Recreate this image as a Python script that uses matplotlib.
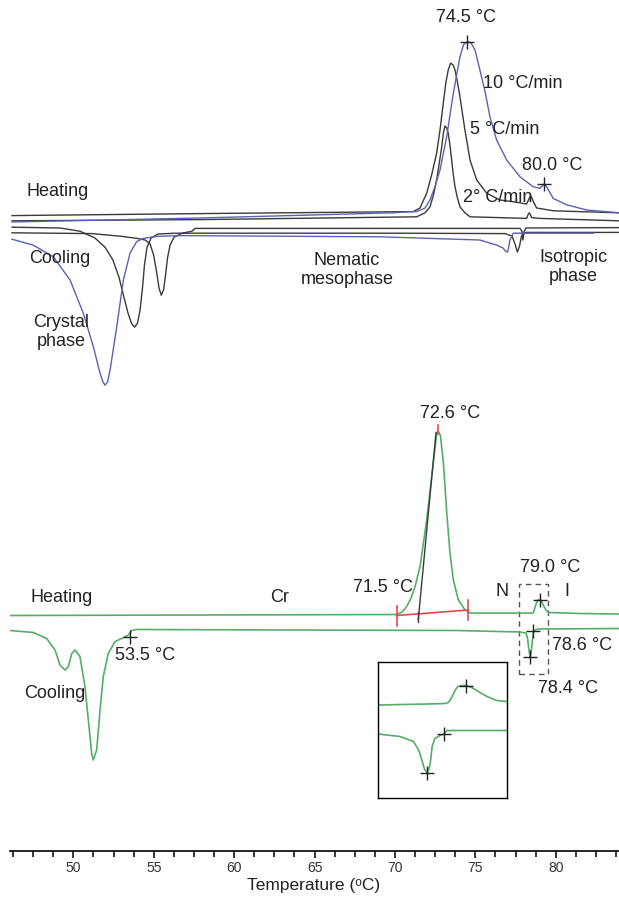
import matplotlib
matplotlib.use("Agg")
import matplotlib.pyplot as plt
from matplotlib import font_manager
from matplotlib.ticker import MultipleLocator, AutoMinorLocator
from matplotlib.patches import Rectangle

# ---- top panel: DSC at 10, 5 and 2 °C/min (temperature, heat flow a.u.) ----
t_h10 = [42.38, 55.67, 69.33, 70.15, 70.98, 71.57, 71.92, 72.27, 72.63, 73.10, 73.57, 74.04,
         74.29, 74.56, 74.82, 75.10, 75.45, 75.81, 76.16, 76.63, 77.34, 78.28, 79.22, 79.69,
         80.00, 80.17, 80.63, 81.58, 82.99, 85.28]
q_h10 = [0.20, 0.30, 0.43, 0.45, 0.46, 0.55, 0.75, 1.08, 1.50, 2.33, 3.42, 4.33,
         4.63, 4.71, 4.68, 4.50, 4.00, 3.46, 2.83, 2.25, 1.75, 1.33, 1.08, 1.04,
         1.15, 1.08, 0.79, 0.63, 0.50, 0.43]

t_h5 = [42.38, 55.67, 70.74, 71.21, 71.69, 72.04, 72.39, 72.63, 72.86, 73.05, 73.21, 73.38,
        73.55, 73.69, 73.86, 74.04, 74.39, 74.75, 75.22, 75.93, 76.87, 77.93, 78.75, 78.95,
        79.06, 79.24, 79.46, 80.63, 85.28]
q_h5 = [0.36, 0.41, 0.46, 0.55, 0.92, 1.38, 1.92, 2.50, 3.17, 3.70, 4.00, 4.17,
        4.13, 4.00, 3.70, 3.33, 2.50, 1.75, 1.25, 0.92, 0.75, 0.70, 0.65, 0.80,
        0.85, 0.70, 0.55, 0.48, 0.43]

t_h2 = [42.38, 55.67, 70.98, 71.57, 71.92, 72.17, 72.39, 72.59, 72.75, 72.87, 72.98, 73.10,
        73.21, 73.33, 73.45, 73.57, 73.69, 73.86, 74.04, 74.39, 74.75, 78.75, 78.85, 78.94,
        79.02, 79.11, 79.69, 85.28]
q_h2 = [0.23, 0.26, 0.33, 0.43, 0.58, 0.88, 1.25, 1.70, 2.08, 2.43, 2.60, 2.55,
        2.42, 2.13, 1.75, 1.38, 1.08, 0.80, 0.58, 0.43, 0.33, 0.29, 0.38, 0.43,
        0.38, 0.31, 0.29, 0.23]

t_c10 = [42.38, 43.89, 45.30, 46.48, 47.42, 48.13, 48.60, 48.81, 48.95, 49.13, 49.31, 49.78,
         50.25, 50.72, 51.19, 51.66, 52.61, 54.26, 68.39, 75.45, 76.66, 77.08, 77.26, 77.41,
         77.50, 77.57, 77.81, 83.46]
q_c10 = [-0.23, -0.38, -0.67, -1.25, -2.08, -2.92, -3.58, -3.80, -3.88, -3.80, -3.50, -2.42,
         -1.25, -0.58, -0.29, -0.21, -0.16, -0.14, -0.17, -0.25, -0.38, -0.45, -0.53, -0.55,
         -0.40, -0.25, -0.08, -0.08]

t_c5 = [42.38, 45.77, 47.18, 48.24, 48.95, 49.51, 49.94, 50.29, 50.58, 50.82, 51.04, 51.25,
        51.43, 51.60, 51.74, 51.92, 52.21, 52.70, 53.90, 69.80, 77.22, 77.72, 77.93, 78.10,
        78.25, 78.39, 78.70, 85.28]
q_c5 = [0.07, 0.05, -0.03, -0.20, -0.43, -0.75, -1.18, -1.68, -2.08, -2.33, -2.43, -2.33,
        -2.00, -1.45, -0.88, -0.43, -0.20, -0.10, -0.08, -0.08, -0.09, -0.15, -0.35, -0.55,
        -0.40, -0.15, -0.06, -0.06]

t_c2 = [42.38, 48.04, 50.16, 51.22, 51.79, 52.14, 52.39, 52.60, 52.77, 52.93, 53.09, 53.23,
        53.37, 53.55, 53.83, 54.40, 55.10, 55.32, 69.80, 78.28, 78.42, 78.49, 78.56, 78.70,
        85.28]
q_c2 = [-0.07, -0.09, -0.16, -0.21, -0.25, -0.35, -0.63, -1.05, -1.45, -1.63, -1.50, -1.13,
        -0.70, -0.38, -0.18, -0.08, -0.03, 0.04, 0.04, 0.04, -0.03, -0.25, -0.05, 0.05,
        0.06]

top_peaks_t = [74.56, 80.00]
top_peaks_q = [4.71, 1.15]

# ---- bottom panel: single run, heating and cooling ----
t_heat = [46.06, 57.88, 70.11, 70.44, 70.73, 71.00, 71.25, 71.56, 71.97, 72.38, 72.60, 72.65,
          72.74, 72.83, 73.01, 73.22, 73.42, 73.63, 73.94, 74.36, 74.67, 78.60, 78.77, 78.90,
          79.01, 79.11, 79.21, 79.39, 79.54, 81.51, 83.94]
q_heat = [1.69, 1.70, 1.71, 1.76, 1.87, 2.04, 2.27, 2.67, 3.60, 4.74, 5.33, 5.37,
          5.35, 5.28, 4.74, 3.74, 2.94, 2.40, 2.00, 1.80, 1.74, 1.74, 1.92, 2.00,
          2.01, 1.98, 1.90, 1.80, 1.75, 1.73, 1.72]

t_cool = [46.06, 47.51, 48.34, 48.86, 49.17, 49.48, 49.69, 49.90, 50.10, 50.41, 50.72, 50.93,
          51.14, 51.24, 51.45, 51.66, 51.86, 52.17, 52.59, 53.01, 53.42, 53.63, 53.94, 64.09,
          73.84, 77.78, 78.15, 78.24, 78.30, 78.37, 78.41, 78.46, 78.52, 78.57, 78.62, 78.77,
          79.02, 83.94]
q_cool = [1.39, 1.35, 1.23, 1.00, 0.70, 0.60, 0.67, 0.93, 1.00, 0.87, 0.27, -0.40,
          -1.07, -1.20, -1.00, -0.20, 0.47, 0.93, 1.17, 1.23, 1.30, 1.39, 1.41, 1.40,
          1.39, 1.36, 1.34, 1.24, 1.08, 0.92, 0.86, 0.94, 1.10, 1.26, 1.37, 1.41,
          1.42, 1.43]

mark_t = [53.5, 79.01, 78.6, 78.4]
mark_q = [1.27, 2.01, 1.39, 0.86]

# onset construction on the melting peak
base_t = [70.11, 74.56]
base_q = [1.69, 1.80]
tang_t = [71.45, 72.55]
tang_q = [1.61, 5.35]
peak_t, peak_q = 72.65, 5.37

# ---- inset: zoom on N-I transition ----
t_in_h = [77.64, 78.40, 78.68, 78.73, 78.77, 78.81, 78.85, 78.88, 78.94, 79.00, 79.06, 79.12,
          79.22, 79.33, 79.48, 79.63]
q_in_h = [-0.10, -0.08, -0.07, -0.05, 0.02, 0.13, 0.22, 0.27, 0.29, 0.29, 0.27, 0.23,
          0.15, 0.07, -0.01, -0.03]
t_in_c = [77.64, 77.98, 78.19, 78.27, 78.32, 78.36, 78.40, 78.43, 78.45, 78.48, 78.52, 78.60,
          78.66, 78.71, 79.63]
q_in_c = [-0.68, -0.73, -0.83, -1.00, -1.20, -1.38, -1.45, -1.38, -1.27, -0.93, -0.77, -0.71,
          -0.68, -0.61, -0.61]
in_mark_t = [79.00, 78.66, 78.40]
in_mark_q = [0.29, -0.67, -1.45]

BLUE = "#5a62b4"
DARK = "#3a3a3a"
GREEN = "#55ae68"
RED = "#e5484b"
plt.rcParams["font.family"] = ["Liberation Sans", "DejaVu Sans"]

installed = {f.name for f in font_manager.fontManager.ttflist}
if "Liberation Sans Narrow" in installed:
    AXFONT = ["Liberation Sans Narrow", "DejaVu Sans"]
    tick_size, label_size = 11, 14
else:
    AXFONT = ["Liberation Sans", "DejaVu Sans"]
    tick_size, label_size = 10, 12.5

W, H = 619, 897
fig = plt.figure(figsize=(W / 100, H / 100), dpi=100)


def ftext(x, y, s, size=13, ha="center", **kw):
    fig.text(x / W, 1 - y / H, s, fontsize=size, ha=ha, va="center", color="#222222", **kw)


# top panel
ax1 = fig.add_axes([0, 1 - 400 / H, 1, 400 / H])
ax1.axis("off")
lw = 1.0
ax1.plot(t_h5, q_h5, color=DARK, lw=lw)
ax1.plot(t_h2, q_h2, color=DARK, lw=lw)
ax1.plot(t_c5, q_c5, color=DARK, lw=lw)
ax1.plot(t_c2, q_c2, color=DARK, lw=lw)
ax1.plot(t_h10, q_h10, color=BLUE, lw=lw)
ax1.plot(t_c10, q_c10, color=BLUE, lw=lw)
ax1.plot(top_peaks_t, top_peaks_q, "+", color="#222222", ms=10, mew=1)
ax1.set_xlim(41.53, 85.28)
ax1.set_ylim(-4.25, 5.75)

# bottom panel
ax2 = fig.add_axes([10 / W, 46 / H, 609 / W, 451 / H])
ax2.plot(t_heat, q_heat, color=GREEN, lw=1.2)
ax2.plot(t_cool, q_cool, color=GREEN, lw=1.2)
ax2.plot(base_t, base_q, color=RED, lw=1.2)
for t0, q0 in zip(base_t, base_q):
    ax2.plot([t0, t0], [q0 - 0.2, q0 + 0.2], color=RED, lw=1.2)
ax2.plot(tang_t, tang_q, color=DARK, lw=1.0)
ax2.plot([tang_t[0], tang_t[0]], [tang_q[0] - 0.05, tang_q[0] + 0.15], color=DARK, lw=1.0)
ax2.plot([peak_t, peak_t], [peak_q - 0.05, peak_q + 0.12], color=RED, lw=1.2)
ax2.plot(mark_t, mark_q, "+", color="#222222", ms=10, mew=1)
ax2.add_patch(Rectangle((77.71, 0.52), 1.83, 1.80, fill=False, ls=(0, (4, 3)),
                        ec="#555555", lw=1.0))
ax2.set_xlim(46.06, 83.93)
ax2.set_ylim(-3.02, 6.0)
for side in ["left", "right", "top"]:
    ax2.spines[side].set_visible(False)
ax2.spines["bottom"].set_linewidth(1.2)
ax2.set_yticks([])
ax2.xaxis.set_major_locator(MultipleLocator(5))
ax2.xaxis.set_minor_locator(AutoMinorLocator(4))
ax2.tick_params(axis="x", which="major", length=5, width=1.1, labelsize=tick_size,
                labelcolor="#333333", pad=2)
ax2.tick_params(axis="x", which="minor", length=4, width=1.1)
for lab in ax2.get_xticklabels():
    lab.set_family(AXFONT)
fig.text(314 / W, 1 - 885 / H, "Temperature (ᵒC)", fontsize=label_size, family=AXFONT,
         ha="center", va="center", color="#222222")

# inset
ax3 = fig.add_axes([378 / W, 99 / H, 129 / W, 136 / H])
ax3.plot(t_in_h, q_in_h, color=GREEN, lw=1.2)
ax3.plot(t_in_c, q_in_c, color=GREEN, lw=1.2)
ax3.plot(in_mark_t, in_mark_q, "+", color="#222222", ms=10, mew=1)
ax3.set_xlim(77.64, 79.64)
ax3.set_ylim(-1.96, 0.76)
ax3.set_xticks([])
ax3.set_yticks([])
for sp in ax3.spines.values():
    sp.set_linewidth(1.0)

# labels, top
ftext(466, 18, "74.5 °C")
ftext(483, 83, "10 °C/min", ha="left")
ftext(470, 130, "5 °C/min", ha="left")
ftext(552, 165, "80.0 °C")
ftext(463, 197, "2° C/min", ha="left")
ftext(58, 191, "Heating")
ftext(60, 258, "Cooling")
ftext(61, 332, "Crystal\nphase", linespacing=1.2)
ftext(347, 270, "Nematic\nmesophase", linespacing=1.2)
ftext(573, 267, "Isotropic\nphase", linespacing=1.2)

# labels, bottom
ftext(450, 413, "72.6 °C")
ftext(383, 588, "71.5 °C")
ftext(550, 568, "79.0 °C")
ftext(502, 592, "N")
ftext(567, 592, "I")
ftext(280, 597, "Cr")
ftext(62, 597, "Heating")
ftext(55, 693, "Cooling")
ftext(145, 655, "53.5 °C")
ftext(582, 645, "78.6 °C")
ftext(568, 688, "78.4 °C")

fig.savefig("out.png", dpi=100)
